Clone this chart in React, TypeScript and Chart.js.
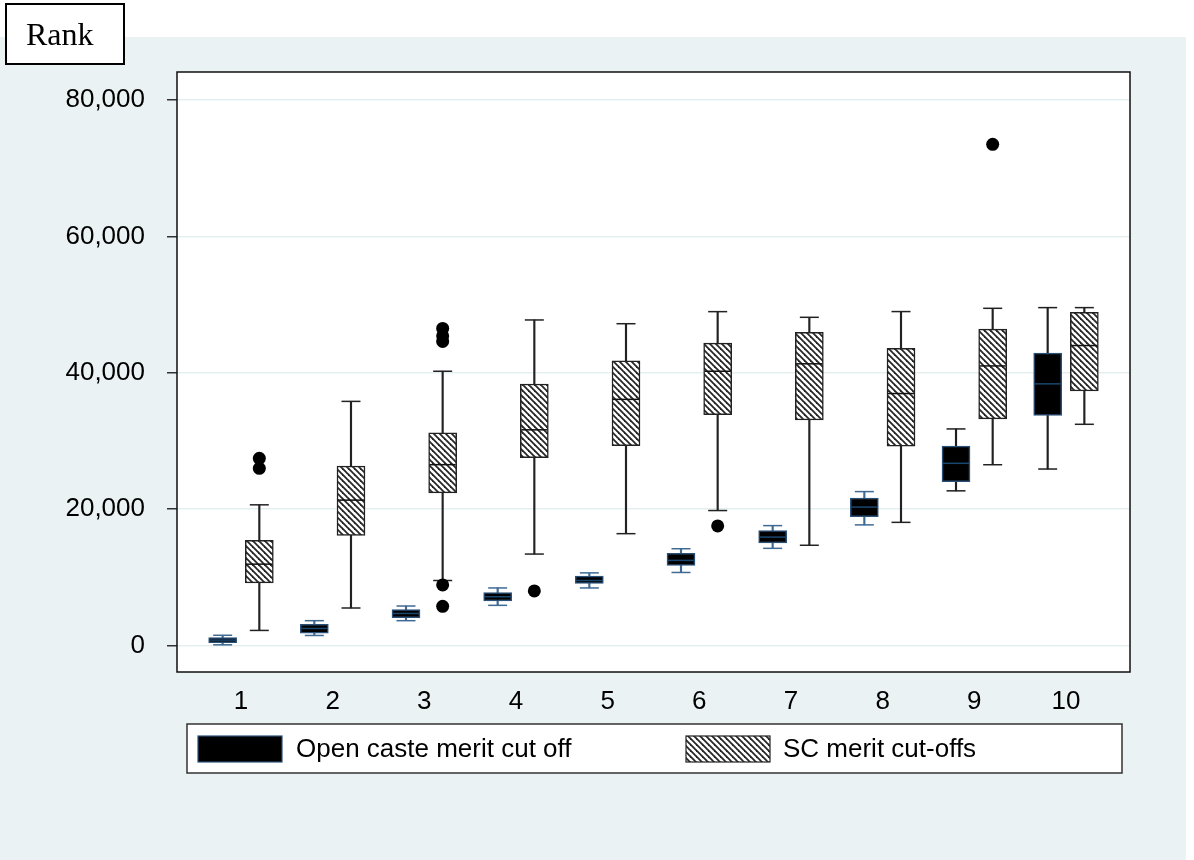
import React, { useEffect, useRef } from 'react';
import { Chart, registerables } from 'chart.js';

Chart.register(...registerables);

// ---- Data ----
const categories = [1, 2, 3, 4, 5, 6, 7, 8, 9, 10];

const openMin = [100, 1470, 3640, 5890, 8440, 10710, 14250, 17690, 22680, 25880];
const openQ1 = [400, 1810, 4080, 6530, 9090, 11740, 15030, 18900, 24040, 33750];
const openMedian = [800, 2500, 4700, 7150, 9530, 12480, 15900, 20300, 26720, 38370];
const openQ3 = [1150, 3090, 5260, 7760, 10170, 13510, 16840, 21630, 29240, 42880];
const openMax = [1500, 3640, 5790, 8440, 10650, 14190, 17580, 22570, 31760, 49550];

const scMin = [2210, 5500, 9530, 13410, 16400, 19790, 14700, 18060, 26510, 32440];
const scQ1 = [9180, 16160, 22390, 27550, 29320, 33840, 33070, 29240, 33230, 37320];
const scMedian = [11930, 21320, 26520, 31630, 36100, 40220, 41310, 36950, 41000, 43990];
const scQ3 = [15430, 26330, 31190, 38350, 41740, 44350, 45930, 43570, 46400, 48870];
const scMax = [20630, 35800, 40220, 47740, 47190, 48960, 48130, 48970, 49450, 49550];

const scOutlierCategory = [1, 1, 3, 3, 3, 3, 3, 4, 6, 9];
const scOutlierValue = [27450, 25980, 46500, 45400, 44600, 8880, 5750, 8000, 17530, 73500];

const yTickValues = [0, 20000, 40000, 60000, 80000];

const seriesLabels = ['Open caste merit cut off', 'SC merit cut-offs'];
const yAxisTitle = 'Rank';

// ---- Styling ----
const SERIES_OFFSET = 0.2;
const FONT = '"Liberation Sans", Arial, Helvetica, sans-serif';
const SERIF = '"Liberation Serif", "Times New Roman", Times, serif';
const BG = '#eaf2f3';
const OPEN_BLUE = '#2b5078';

function openWhiskerColor(i: number): string {
  return i >= 8 ? '#1e1e1e' : '#3f6a94';
}

function makeHatch(): CanvasPattern | string {
  const s = 6;
  const c = document.createElement('canvas');
  c.width = s;
  c.height = s;
  const g = c.getContext('2d');
  if (!g) return '#888';
  g.fillStyle = '#ffffff';
  g.fillRect(0, 0, s, s);
  g.strokeStyle = '#262626';
  g.lineWidth = 1.8;
  for (let k = -1; k <= 1; k++) {
    g.beginPath();
    g.moveTo(k * s - 1, -1);
    g.lineTo(k * s + s + 1, s + 1);
    g.stroke();
  }
  return g.createPattern(c, 'repeat') || '#888';
}

export default function App() {
  const ref = useRef<HTMLCanvasElement>(null);

  useEffect(() => {
    const canvas = ref.current;
    if (!canvas) return;
    const hatch = makeHatch();

    const openX = categories.map((c) => c - SERIES_OFFSET);
    const scX = categories.map((c) => c + SERIES_OFFSET);

    const decorPlugin = {
      id: 'decor',
      beforeDraw(chart: any) {
        const ctx = chart.ctx;
        const { left, top, right, bottom } = chart.chartArea;
        ctx.save();
        ctx.fillStyle = '#ffffff';
        ctx.fillRect(0, 0, chart.width, chart.height);
        ctx.fillStyle = BG;
        ctx.fillRect(0, 37, chart.width - 8, chart.height - 37);
        ctx.fillStyle = '#ffffff';
        ctx.fillRect(left, top, right - left, bottom - top);
        ctx.restore();
      },
      afterDatasetsDraw(chart: any) {
        const ctx = chart.ctx;
        const { left, top, right, bottom } = chart.chartArea;
        ctx.save();
        ctx.strokeStyle = '#111';
        ctx.lineWidth = 1.5;
        ctx.strokeRect(left, top, right - left, bottom - top);
        ctx.restore();
      },
      afterDraw(chart: any) {
        const ctx = chart.ctx;
        const { left, right, bottom } = chart.chartArea;
        ctx.save();
        // axis title box
        ctx.fillStyle = '#ffffff';
        ctx.fillRect(6, 4, 118, 60);
        ctx.strokeStyle = '#000';
        ctx.lineWidth = 2;
        ctx.strokeRect(6, 4, 118, 60);
        ctx.fillStyle = '#000';
        ctx.font = '32px ' + SERIF;
        ctx.textBaseline = 'alphabetic';
        ctx.textAlign = 'left';
        ctx.fillText(yAxisTitle, 26, 45);

        // legend
        const bx = left + 10;
        const by = bottom + 52;
        const bw = right - left - 8 - 10;
        const bh = 49;
        ctx.fillStyle = '#ffffff';
        ctx.fillRect(bx, by, bw, bh);
        ctx.strokeStyle = '#333';
        ctx.lineWidth = 1.5;
        ctx.strokeRect(bx, by, bw, bh);

        const sw = 84;
        const sh = 26;
        const sy = by + 12;
        // item 1
        const s1x = bx + 11;
        ctx.fillStyle = '#000';
        ctx.fillRect(s1x, sy, sw, sh);
        ctx.strokeStyle = OPEN_BLUE;
        ctx.lineWidth = 1.2;
        ctx.strokeRect(s1x, sy, sw, sh);
        // item 2
        const s2x = bx + 499;
        ctx.fillStyle = hatch as any;
        ctx.fillRect(s2x, sy, sw, sh);
        ctx.strokeStyle = '#222';
        ctx.lineWidth = 1.2;
        ctx.strokeRect(s2x, sy, sw, sh);

        ctx.fillStyle = '#000';
        ctx.font = '26px ' + FONT;
        ctx.textBaseline = 'middle';
        ctx.fillText(chart.data.datasets[2].label, s1x + sw + 14, sy + sh / 2 + 1);
        ctx.fillText(chart.data.datasets[3].label, s2x + sw + 13, sy + sh / 2 + 1);
        ctx.restore();
      },
    };

    const chart = new Chart(canvas, {
      type: 'bar',
      data: {
        datasets: [
          {
            type: 'bar',
            label: 'open-whiskers',
            data: categories.map((_, i) => ({ x: openX[i], y: [openMin[i], openMax[i]] })),
            backgroundColor: (c: any) => openWhiskerColor(c.dataIndex),
            borderWidth: 0,
            barThickness: 1.5,
            maxBarThickness: 1.5,
            grouped: false,
            order: 6,
          },
          {
            type: 'bar',
            label: 'sc-whiskers',
            data: categories.map((_, i) => ({ x: scX[i], y: [scMin[i], scMax[i]] })),
            backgroundColor: '#222',
            borderWidth: 0,
            barThickness: 1.5,
            maxBarThickness: 1.5,
            grouped: false,
            order: 6,
          },
          {
            type: 'bar',
            label: seriesLabels[0],
            data: categories.map((_, i) => ({ x: openX[i], y: [openQ1[i], openQ3[i]] })),
            backgroundColor: '#000',
            borderColor: OPEN_BLUE,
            borderWidth: 1.5,
            borderSkipped: false,
            barThickness: 28,
            maxBarThickness: 28,
            grouped: false,
            order: 5,
          },
          {
            type: 'bar',
            label: seriesLabels[1],
            data: categories.map((_, i) => ({ x: scX[i], y: [scQ1[i], scQ3[i]] })),
            backgroundColor: hatch as any,
            borderColor: '#222',
            borderWidth: 1.5,
            borderSkipped: false,
            barThickness: 28,
            maxBarThickness: 28,
            grouped: false,
            order: 5,
          },
          {
            type: 'scatter',
            label: 'open-median',
            data: categories.map((_, i) => ({ x: openX[i], y: openMedian[i] })),
            pointStyle: 'line',
            pointRadius: 13,
            pointBorderColor: '#1a476f',
            pointBorderWidth: 1.5,
            order: 4,
          },
          {
            type: 'scatter',
            label: 'sc-median',
            data: categories.map((_, i) => ({ x: scX[i], y: scMedian[i] })),
            pointStyle: 'line',
            pointRadius: 13,
            pointBorderColor: '#111',
            pointBorderWidth: 1.5,
            order: 4,
          },
          {
            type: 'scatter',
            label: 'open-caps',
            data: [
              ...categories.map((_, i) => ({ x: openX[i], y: openMin[i] })),
              ...categories.map((_, i) => ({ x: openX[i], y: openMax[i] })),
            ],
            pointStyle: 'line',
            pointRadius: 9.5,
            pointBorderColor: (c: any) => openWhiskerColor(c.dataIndex % categories.length),
            pointBorderWidth: 1.5,
            order: 4,
          },
          {
            type: 'scatter',
            label: 'sc-caps',
            data: [
              ...categories.map((_, i) => ({ x: scX[i], y: scMin[i] })),
              ...categories.map((_, i) => ({ x: scX[i], y: scMax[i] })),
            ],
            pointStyle: 'line',
            pointRadius: 9.5,
            pointBorderColor: '#222',
            pointBorderWidth: 1.5,
            order: 4,
          },
          {
            type: 'scatter',
            label: 'sc-outliers',
            data: scOutlierCategory.map((c, i) => ({ x: c + SERIES_OFFSET, y: scOutlierValue[i] })),
            pointStyle: 'circle',
            pointRadius: 6.5,
            pointBackgroundColor: '#000',
            pointBorderColor: '#000',
            pointBorderWidth: 0,
            order: 3,
          },
        ] as any,
      },
      options: {
        responsive: false,
        maintainAspectRatio: false,
        devicePixelRatio: 1,
        animation: false,
        events: [],
        layout: { padding: { left: 0, top: 72, right: 64, bottom: 118 } },
        plugins: {
          legend: { display: false },
          tooltip: { enabled: false },
        },
        scales: {
          x: {
            type: 'linear',
            min: 0.302,
            max: 10.698,
            offset: false,
            grid: { display: false },
            border: { display: false },
            ticks: {
              color: '#000',
              font: { size: 26, family: FONT },
              padding: 6,
              autoSkip: false,
              maxRotation: 0,
              callback: (v: any) => String(v),
            },
            afterBuildTicks: (s: any) => {
              s.ticks = categories.map((v) => ({ value: v }));
            },
            afterFit: (s: any) => {
              s.height = 70;
            },
          },
          y: {
            type: 'linear',
            min: -3886,
            max: 84104,
            grid: {
              color: '#e6eff0',
              lineWidth: 1.5,
              drawTicks: true,
              tickLength: 10,
              tickColor: '#333',
              tickWidth: 1.5,
            },
            border: { display: false },
            ticks: {
              color: '#000',
              font: { size: 26, family: FONT },
              padding: 22,
              callback: (v: any) => Number(v).toLocaleString('en-US'),
            },
            afterBuildTicks: (s: any) => {
              s.ticks = yTickValues.map((v) => ({ value: v }));
            },
            afterFit: (s: any) => {
              s.width = 177;
            },
          },
        },
      } as any,
      plugins: [decorPlugin],
    });

    return () => {
      chart.destroy();
    };
  }, []);

  return (
    <div style={{ position: 'absolute', left: 0, top: 0, width: 1194, height: 860, background: '#fff' }}>
      <canvas ref={ref} width={1194} height={860} style={{ display: 'block', width: 1194, height: 860 }} />
    </div>
  );
}
